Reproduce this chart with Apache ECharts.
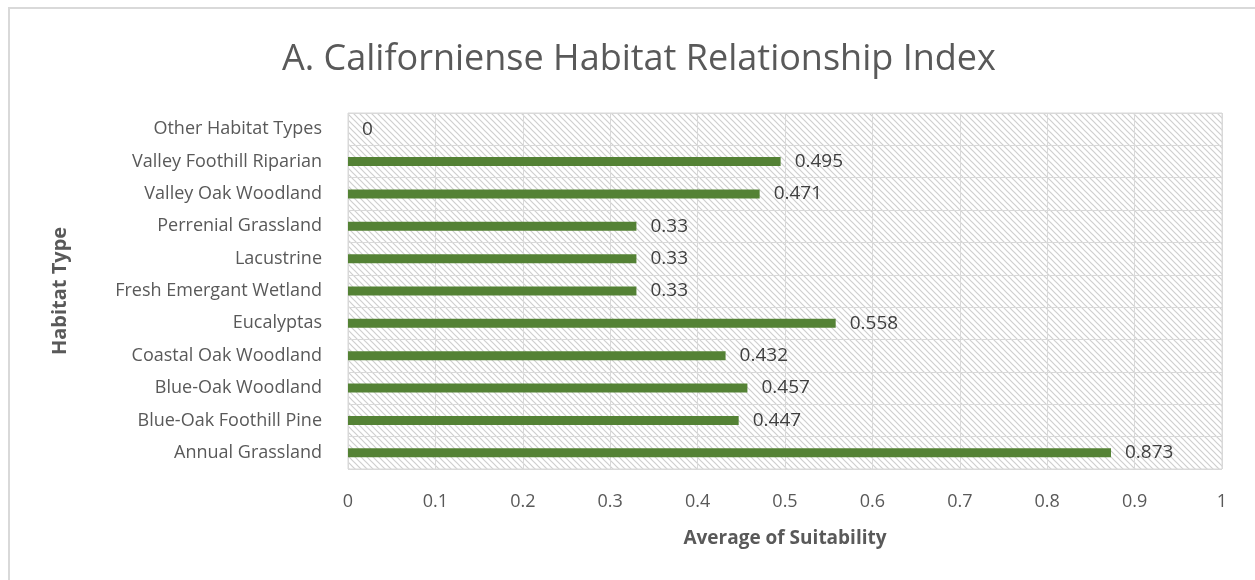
<!DOCTYPE html>
<html>
<head>
<meta charset="utf-8">
<script src="https://cdn.jsdelivr.net/npm/echarts@6/dist/echarts.min.js"></script>
<style>
html,body{margin:0;padding:0;background:#fff;}
#frame{position:absolute;left:8px;top:7px;width:1247px;height:573px;border-left:2px solid #d9d9d9;border-top:2px solid #d9d9d9;box-sizing:border-box;}
#chart{position:absolute;left:0;top:0;width:1255px;height:580px;}
</style>
</head>
<body>
<div id="frame"></div>
<div id="chart"></div>
<script>
const categories = ["Annual Grassland","Blue-Oak Foothill Pine","Blue-Oak Woodland","Coastal Oak Woodland","Eucalyptas","Fresh Emergant Wetland","Lacustrine","Perrenial Grassland","Valley Oak Woodland","Valley Foothill Riparian","Other Habitat Types"];
const values = [0.873,0.447,0.457,0.432,0.558,0.33,0.33,0.33,0.471,0.495,0];
const xTicks = [0,0.1,0.2,0.3,0.4,0.5,0.6,0.7,0.8,0.9,1];

const tile = document.createElement('canvas');
tile.width = 6; tile.height = 6;
const ctx = tile.getContext('2d');
ctx.fillStyle = '#ffffff'; ctx.fillRect(0,0,6,6);
ctx.strokeStyle = '#cfcfcf'; ctx.lineWidth = 1.2;
ctx.beginPath();
ctx.moveTo(-1,-1); ctx.lineTo(7,7);
ctx.moveTo(-1,5); ctx.lineTo(1,7);
ctx.moveTo(5,-1); ctx.lineTo(7,1);
ctx.stroke();

const chart = echarts.init(document.getElementById('chart'), null, {renderer:'canvas'});
const font = '"Open Sans", Lato, sans-serif';
chart.setOption({
  animation:false,
  title:{text:'A. Californiense Habitat Relationship Index',left:277,top:37,
    textStyle:{fontFamily:font,fontSize:36,fontWeight:'normal',color:'#595959'}},
  grid:{left:348,right:33,top:113,bottom:111,show:true,
    backgroundColor:{image:tile,repeat:'repeat'},borderColor:'#d9d9d9',borderWidth:1},
  xAxis:{type:'value',min:0,max:1,interval:0.1,
    axisLine:{show:false},axisTick:{show:false},
    splitLine:{show:true,lineStyle:{color:'#d9d9d9',width:1}},
    axisLabel:{fontFamily:font,fontSize:18,color:'#595959',margin:24,
      formatter:function(v){const t=xTicks.find(x=>Math.abs(x-v)<1e-9);return String(t!==undefined?t:v);}},
    name:'Average of Suitability',nameLocation:'middle',nameGap:60,
    nameTextStyle:{fontFamily:font,fontSize:19,fontWeight:'bold',color:'#595959'}},
  yAxis:{type:'category',data:categories,
    axisLine:{show:false},axisTick:{show:false},
    splitLine:{show:true,lineStyle:{color:'#d9d9d9',width:1}},
    axisLabel:{fontFamily:font,fontSize:18,color:'#595959',margin:26,padding:[3,0,0,0]},
    name:'Habitat Type',nameLocation:'middle',nameGap:278,nameRotate:90,
    nameTextStyle:{fontFamily:font,fontSize:20,fontWeight:'bold',color:'#595959'}},
  series:[{type:'bar',data:values,barWidth:9,
    itemStyle:{color:'#548235'},
    label:{show:true,position:'right',distance:14,fontFamily:font,fontSize:19,color:'#404040',padding:[3,0,0,0],
      formatter:function(p){return String(p.value);}}}]
});
</script>
</body>
</html>
